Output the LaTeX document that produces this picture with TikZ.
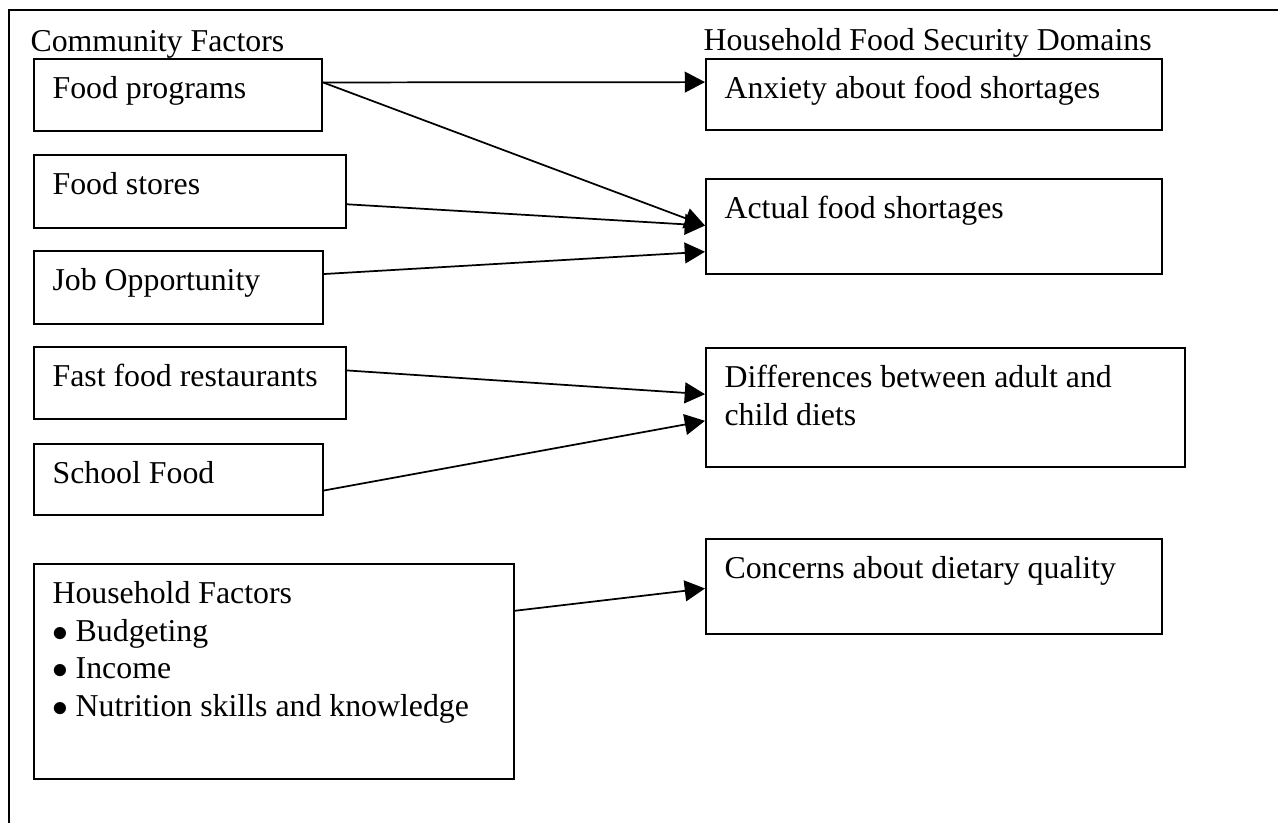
\documentclass[tikz,border=0pt]{standalone}
\usepackage{fontspec}
\setmainfont{Liberation Serif}
\usetikzlibrary{arrows.meta,calc}
\newcommand{\pxl}{0.3457pt}
\newcommand{\itembul}{\makebox[8pt][l]{$\bullet$}}
\tikzset{
  fbox/.style={draw, line width=0.7pt, anchor=north west, inner sep=0pt},
  boxtext/.style={anchor=north west, inner sep=0pt, align=left,
                  xshift=19*\pxl, yshift=-18*\pxl},
  headtext/.style={anchor=base west, inner sep=0pt},
  link/.style={line width=0.6pt, -{Triangle[length=7pt,width=7.2pt]}},
}

\begin{document}
\begin{tikzpicture}[x=\pxl, y=-\pxl, font=\fontsize{11pt}{13pt}\selectfont]
    \useasboundingbox (0,0) rectangle (1278,822);
    % open frame, top and left side only
    \draw[line width=0.7pt] (9,830) -- (9,10) -- (1290,10);
    \node[headtext] (commhead) at (30,51) {Community Factors};
    \node[headtext] (domhead) at (703,50) {Household Food Security Domains};
    % community factors
    \node[fbox, minimum width=288*\pxl, minimum height=72*\pxl,
          label={[boxtext]north west:Food programs}] (fprog) at (33,58) {};
    \node[fbox, minimum width=312*\pxl, minimum height=73*\pxl,
          label={[boxtext]north west:Food stores}] (fstore) at (33,154) {};
    \node[fbox, minimum width=289*\pxl, minimum height=73*\pxl,
          label={[boxtext]north west:Job Opportunity}] (jobopp) at (33,250) {};
    \node[fbox, minimum width=312*\pxl, minimum height=72*\pxl,
          label={[boxtext]north west:Fast food restaurants}] (fastfd) at (33,346) {};
    \node[fbox, minimum width=289*\pxl, minimum height=71*\pxl,
          label={[boxtext]north west:School Food}] (schfd) at (33,443) {};
    \node[fbox, minimum width=480*\pxl, minimum height=215*\pxl,
          label={[boxtext]north west:{Household Factors\\
            \itembul Budgeting\\
            \itembul Income\\
            \itembul Nutrition skills and knowledge}}] (hhfac) at (33,563) {};
    % food security domains
    \node[fbox, minimum width=456*\pxl, minimum height=71*\pxl,
          label={[boxtext]north west:Anxiety about food shortages}] (anxty) at (705,58) {};
    \node[fbox, minimum width=456*\pxl, minimum height=95*\pxl,
          label={[boxtext]north west:Actual food shortages}] (actual) at (705,178) {};
    \node[fbox, minimum width=479*\pxl, minimum height=119*\pxl,
          label={[boxtext]north west:{Differences between adult and\\child diets}}] (diffs) at (705,347) {};
    \node[fbox, minimum width=456*\pxl, minimum height=95*\pxl,
          label={[boxtext]north west:Concerns about dietary quality}] (dietq) at (705,538) {};
    % links
    \draw[link] ($(fprog.north east)!.33!(fprog.south east)$) -- ($(anxty.north west)!.33!(anxty.south west)$);
    \draw[link] ($(fprog.north east)!.33!(fprog.south east)$) -- ($(actual.north west)!.49!(actual.south west)$);
    \draw[link] ($(fstore.north east)!.67!(fstore.south east)$) -- ($(actual.north west)!.49!(actual.south west)$);
    \draw[link] ($(jobopp.north east)!.32!(jobopp.south east)$) -- ($(actual.north west)!.76!(actual.south west)$);
    \draw[link] ($(fastfd.north east)!.33!(fastfd.south east)$) -- ($(diffs.north west)!.39!(diffs.south west)$);
    \draw[link] ($(schfd.north east)!.65!(schfd.south east)$) -- ($(diffs.north west)!.61!(diffs.south west)$);
    \draw[link] ($(hhfac.north east)!.22!(hhfac.south east)$) -- ($(dietq.north west)!.52!(dietq.south west)$);
\end{tikzpicture}
\end{document}
